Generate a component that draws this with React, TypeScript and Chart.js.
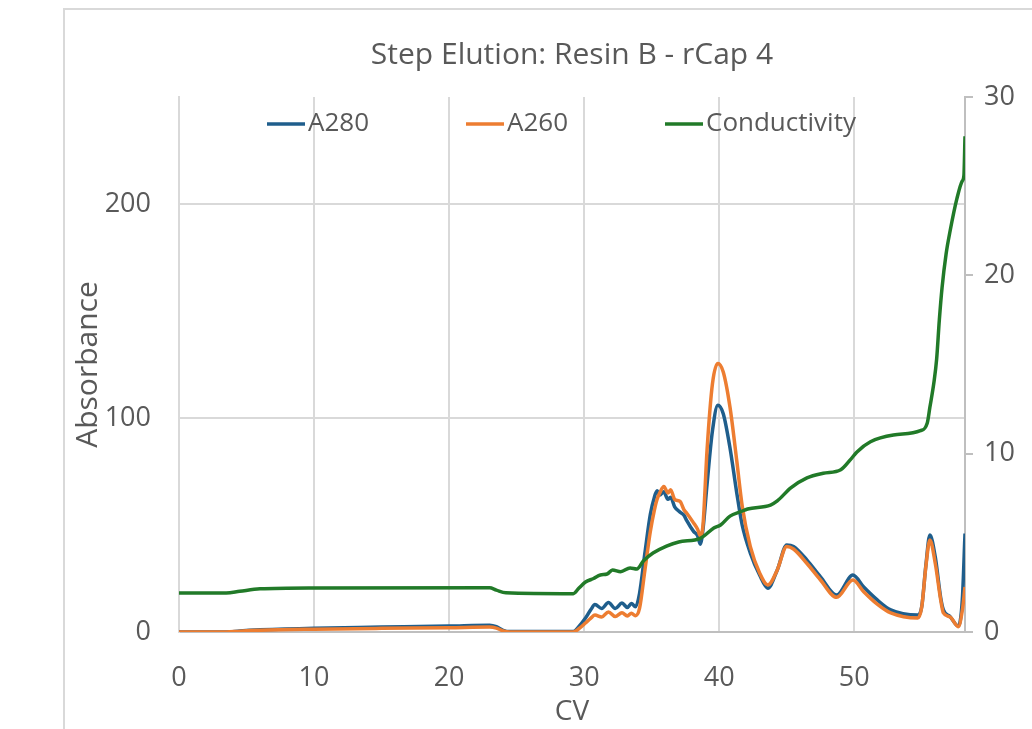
import React, { useEffect, useRef } from 'react';
import { Chart, registerables } from 'chart.js';

Chart.register(...registerables);

// ---- Data ----
const cvAbs = [
  0, 3.5, 4.5, 6, 10, 15, 20, 23, 23.5, 24, 24.5, 29.2, 29.6, 30.1, 30.5, 30.8,
  31.3, 31.8, 32.3, 32.8, 33.2, 33.5, 33.8, 34.1, 34.5, 34.9, 35.2, 35.4, 35.6,
  35.9, 36.2, 36.4, 36.7, 37.1, 37.4, 37.6, 38.1, 38.4, 38.6, 38.8, 39.1, 39.5,
  39.9, 40.3, 40.8, 41.3, 41.7, 42.3, 43.0, 43.6, 44.3, 45.0, 45.5, 46.5, 47.5,
  48.7, 49.9, 50.7, 51.7, 52.7, 54.7, 55.0, 55.3, 55.6, 56.0, 56.4, 56.6, 57.1,
  57.7, 58.0, 58.2,
];
const a280 = [
  0, 0, 0.5, 1.0, 1.8, 2.3, 2.8, 3.2, 2.5, 0.8, 0.2, 0.2, 2.5, 6.5, 10.5, 12.8,
  11, 13.8, 11, 13.5, 11.5, 13.3, 11.8, 18, 37, 55, 63, 66, 64,
  65.5, 62, 63, 58.5, 56, 54.5, 52, 47, 45, 41, 48, 69, 94,
  106, 102, 86, 65, 50, 37, 26.5, 20.5, 29, 40.7, 40, 33.6, 25.8,
  17.3, 26.6, 21, 15, 10.3, 7.9, 12, 31, 45.3, 35, 16, 10.3, 7.2,
  2.8, 15, 46,
];
const a260 = [
  0, 0, 0.4, 0.8, 1.3, 1.7, 2.0, 2.3, 1.8, 0.5, 0, 0, 1.5, 4.2, 6.5, 7.9,
  7.0, 9.4, 7.2, 9.0, 7.5, 8.8, 7.6, 11, 29, 47, 57, 62, 65,
  68, 65, 66.5, 62, 61, 57, 55.5, 51, 48, 45, 50, 85, 116,
  125.5, 121.5, 105, 80, 59, 40, 27.5, 22, 29, 40, 38.8, 32, 24.3,
  16.2, 24.3, 18.8, 13, 8.9, 6.5, 11.8, 30.5, 43, 32, 15, 8.9, 7.0,
  2.5, 10, 21,
];
const cvCond = [
  0, 3.5, 4.5, 6, 10, 23, 23.5, 24.2, 29.2, 29.6, 30.1, 30.7, 31.2, 31.7, 32.1,
  32.7, 33.4, 33.9, 34.4, 35.1, 36.1, 37.0, 38.6, 39.6, 40.1, 40.8, 41.6, 42.1,
  43.8, 44.3, 45.3, 46.5, 47.7, 49.0, 49.7, 50.2, 51.2, 52.9, 54.9, 55.4, 55.6,
  55.9, 56.1, 56.3, 56.5, 56.8, 57.1, 57.6, 58.0, 58.12, 58.2,
];
const conductivity = [
  2.18, 2.18, 2.28, 2.42, 2.47, 2.48, 2.35, 2.2, 2.15, 2.45, 2.8, 3.0, 3.2, 3.25, 3.48,
  3.38, 3.59, 3.53, 4.0, 4.43, 4.82, 5.05, 5.25, 5.83, 6.0, 6.5, 6.75, 6.9,
  7.12, 7.35, 8.08, 8.64, 8.9, 9.1, 9.65, 10.1, 10.67, 11.05, 11.29, 11.7, 12.6,
  14.0, 15.3, 17.5, 19.3, 21.2, 22.5, 24.3, 25.3, 25.6, 27.8,
];

const xTicks = [0, 10, 20, 30, 40, 50];
const absTicks = [0, 100, 200];
const condTicks = [0, 10, 20, 30];
const seriesNames = ['A280', 'A260', 'Conductivity'];
const titleText = 'Step Elution: Resin B - rCap 4';
const xTitle = 'CV';
const yTitle = 'Absorbance';

const FONT = '"Open Sans", "Noto Sans", sans-serif';
const TEXT = '#595959';
const GRID = '#d9d9d9';
const AXIS = '#bfbfbf';
const BLUE = '#1f5e8c';
const ORANGE = '#ed7d31';
const GREEN = '#217a28';

const toPoints = (xs: number[], ys: number[]) => xs.map((x, i) => ({ x, y: ys[i] }));

const insideLegend = {
  id: 'insideLegend',
  afterDatasetsDraw(chart: any) {
    const { ctx, chartArea } = chart;
    const slots = [88, 287, 486];
    ctx.save();
    ctx.font = `26px ${FONT}`;
    ctx.textBaseline = 'middle';
    ctx.textAlign = 'left';
    chart.data.datasets.forEach((ds: any, i: number) => {
      const x0 = chartArea.left + slots[i];
      const y = chartArea.top + 27;
      ctx.strokeStyle = ds.borderColor;
      ctx.lineWidth = 3.5;
      ctx.beginPath();
      ctx.moveTo(x0, y);
      ctx.lineTo(x0 + 38, y);
      ctx.stroke();
      ctx.fillStyle = TEXT;
      ctx.fillText(ds.label, x0 + 41, y);
    });
    ctx.restore();
  },
};

export default function App() {
  const ref = useRef<HTMLCanvasElement | null>(null);

  useEffect(() => {
    if (!ref.current) return;
    const chart = new Chart(ref.current, {
      type: 'line',
      data: {
        datasets: [
          {
            label: seriesNames[0],
            data: toPoints(cvAbs, a280),
            borderColor: BLUE,
            backgroundColor: BLUE,
            borderWidth: 3.5,
            pointRadius: 0,
            cubicInterpolationMode: 'monotone',
            yAxisID: 'y',
            order: 2,
          },
          {
            label: seriesNames[1],
            data: toPoints(cvAbs, a260),
            borderColor: ORANGE,
            backgroundColor: ORANGE,
            borderWidth: 3.5,
            pointRadius: 0,
            cubicInterpolationMode: 'monotone',
            yAxisID: 'y',
            order: 1,
          },
          {
            label: seriesNames[2],
            data: toPoints(cvCond, conductivity),
            borderColor: GREEN,
            backgroundColor: GREEN,
            borderWidth: 3.5,
            pointRadius: 0,
            cubicInterpolationMode: 'monotone',
            yAxisID: 'y1',
            order: 0,
          },
        ],
      },
      options: {
        animation: false,
        responsive: false,
        maintainAspectRatio: false,
        layout: { padding: 0 },
        plugins: {
          legend: { display: false },
          tooltip: { enabled: false },
          title: {
            display: true,
            text: titleText,
            fullSize: false,
            color: TEXT,
            font: { family: FONT, size: 30, weight: 'normal' },
            padding: { top: 37, bottom: 24 },
          },
        },
        scales: {
          x: {
            type: 'linear',
            min: 0,
            max: 58.2,
            afterBuildTicks: (s: any) => { s.ticks = xTicks.map((v) => ({ value: v })); },
            afterFit: (s: any) => { s.height = 97; },
            ticks: { color: TEXT, font: { family: FONT, size: 27 }, padding: 30, maxRotation: 0 },
            grid: { color: GRID, lineWidth: 2, drawTicks: false },
            border: { color: AXIS, width: 2 },
            title: {
              display: true,
              text: xTitle,
              color: TEXT,
              font: { family: FONT, size: 28 },
              padding: { top: 0, bottom: 0 },
            },
          },
          y: {
            type: 'linear',
            position: 'left',
            min: 0,
            max: 250,
            afterBuildTicks: (s: any) => { s.ticks = absTicks.map((v) => ({ value: v })); },
            afterFit: (s: any) => { s.width = 179; },
            ticks: { color: TEXT, font: { family: FONT, size: 27 }, padding: 28 },
            grid: { color: GRID, lineWidth: 2, drawTicks: false },
            border: { color: GRID, width: 2 },
            title: {
              display: true,
              text: yTitle,
              color: TEXT,
              font: { family: FONT, size: 30 },
              padding: { top: 70, bottom: 0 },
            },
          },
          y1: {
            type: 'linear',
            position: 'right',
            min: 0,
            max: 30,
            afterBuildTicks: (s: any) => { s.ticks = condTicks.map((v) => ({ value: v })); },
            afterFit: (s: any) => { s.width = 67; },
            ticks: { color: TEXT, font: { family: FONT, size: 27 }, padding: 11 },
            grid: { drawOnChartArea: false, color: AXIS, lineWidth: 2, drawTicks: true, tickLength: 8 },
            border: { color: AXIS, width: 2 },
          },
        },
      },
      plugins: [insideLegend],
    } as any);
    return () => chart.destroy();
  }, []);

  return (
    <div style={{ position: 'fixed', left: 0, top: 0, width: 1032, height: 729, overflow: 'hidden', background: '#fff' }}>
      <div
        style={{
          position: 'absolute',
          left: 63,
          top: 8,
          width: 1100,
          height: 800,
          borderTop: `2px solid ${GRID}`,
          borderLeft: `2px solid ${GRID}`,
        }}
      />
      <canvas ref={ref} width={1032} height={729} style={{ position: 'absolute', left: 0, top: 0 }} />
    </div>
  );
}
